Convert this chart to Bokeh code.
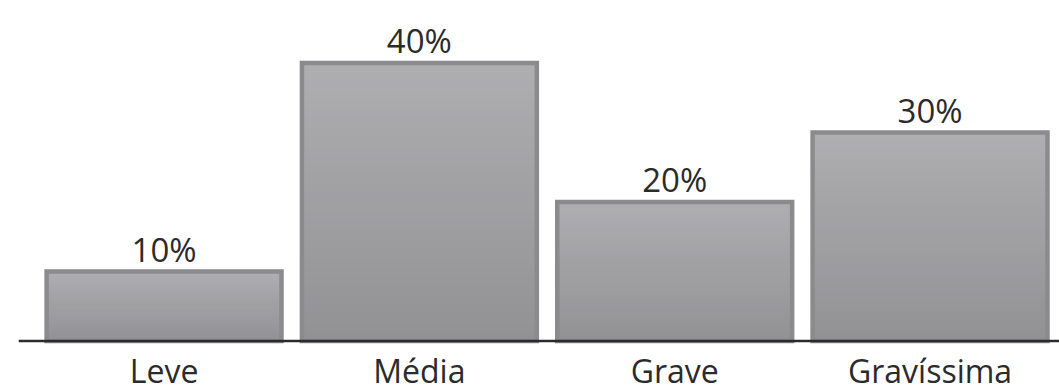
import numpy as np
from bokeh.plotting import figure
from bokeh.models import ColumnDataSource, LabelSet, Range1d, Span
from bokeh.core.properties import value
from bokeh.embed import file_html
from bokeh.resources import INLINE

categories = ["Leve", "Média", "Grave", "Gravíssima"]
values = [10, 40, 20, 30]
labels = ["10%", "40%", "20%", "30%"]

xs = [i + 0.5 for i in range(len(categories))]

p = figure(width=1059, height=392, output_backend="svg", toolbar_location=None,
           x_range=Range1d(-0.07, 4.007), y_range=Range1d(-7.4, 49.0),
           min_border_left=18, min_border_right=0, min_border_top=0, min_border_bottom=0)
p.outline_line_color = None
p.xgrid.visible = False
p.ygrid.visible = False
p.xaxis.visible = False
p.yaxis.visible = False
p.background_fill_color = "white"
p.border_fill_color = "white"

# gradient fill emulated by overlapping bars, drawn tallest (lightest) first
n = 30
top_c = np.array([0xae, 0xae, 0xb1])
bot_c = np.array([0x92, 0x92, 0x95])
sx, st, sc = [], [], []
for k in range(n - 1, -1, -1):
    f = (k + 0.5) / n
    c = bot_c + (top_c - bot_c) * f
    col = "#%02x%02x%02x" % tuple(int(round(q)) for q in c)
    for x, v in zip(xs, values):
        sx.append(x)
        st.append(v * (k + 1) / n)
        sc.append(col)
p.vbar(x=sx, bottom=0, top=st, width=0.92, fill_color=sc, line_color=None)

src = ColumnDataSource(dict(x=xs, top=values, lab=labels, cat=categories, zero=[0] * len(xs)))
p.vbar(x="x", top="top", bottom=0, width=0.92, source=src, fill_color=None,
       line_color="#8b8b8e", line_width=4.5, line_join="miter")

p.add_layout(Span(location=0, dimension="width", line_color="#2b2b2b", line_width=2.5))

p.add_layout(LabelSet(x="x", y="top", text="lab", source=src, y_offset=10,
                      text_align="center", text_baseline="alphabetic",
                      text_font=value("Open Sans"), text_font_size="33px", text_color="#2b2b2b"))

p.add_layout(LabelSet(x="x", y="zero", text="cat", source=src, y_offset=-42,
                      text_align="center", text_baseline="alphabetic",
                      text_font=value("Open Sans"), text_font_size="32px", text_color="#2b2b2b"))

open("out.html", "w").write(file_html(p, INLINE))
